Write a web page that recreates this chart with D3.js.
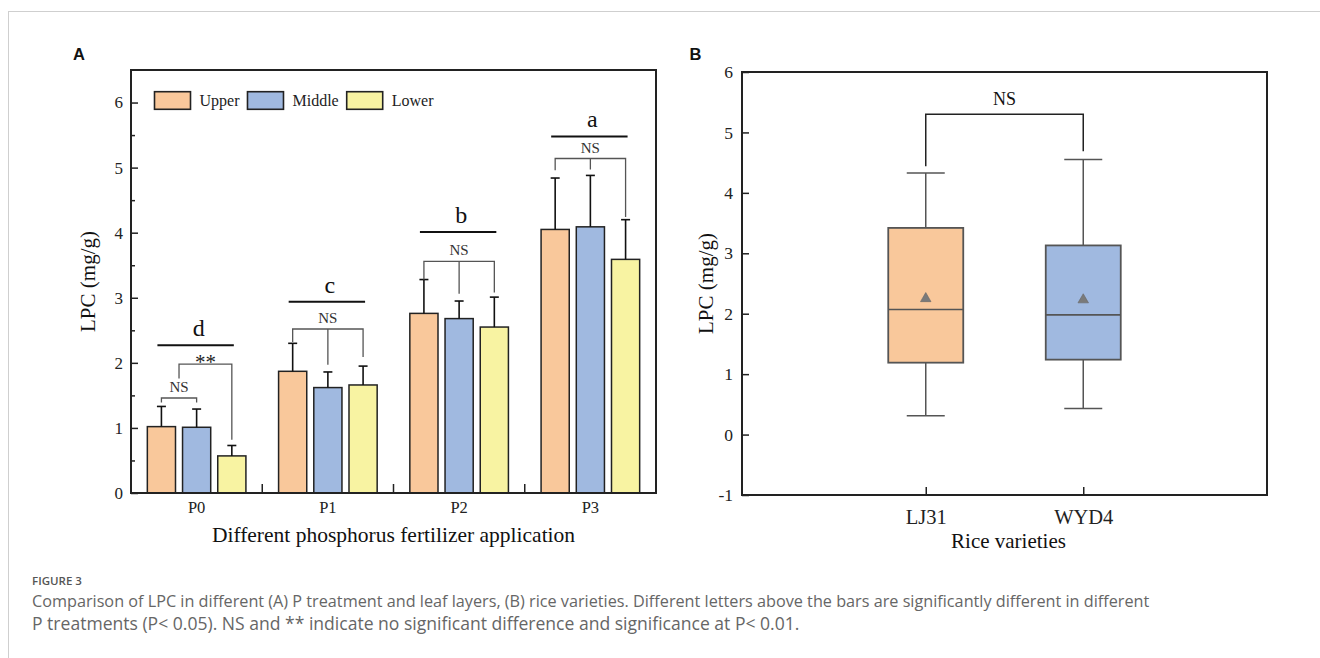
<!DOCTYPE html>
<html><head><meta charset="utf-8">
<script src="https://cdn.jsdelivr.net/npm/d3@7"></script>
<style>body{margin:0;background:#fff}svg{display:block}</style>
</head><body>
<svg id="c" width="1320" height="658"></svg>
<script>
// ---------- DATA ----------
const categories = ["P0","P1","P2","P3"];
const series = ["Upper","Middle","Lower"];
const upperMean = [1.02,1.87,2.76,4.05];
const upperSD   = [0.31,0.43,0.52,0.79];
const middleMean= [1.01,1.62,2.68,4.09];
const middleSD  = [0.28,0.24,0.27,0.79];
const lowerMean = [0.57,1.66,2.55,3.59];
const lowerSD   = [0.16,0.29,0.46,0.61];
const groupLetters = ["d","c","b","a"];
const letterLineY  = [2.27,2.94,4.01,5.48];
const nsBracketCats = ["P1","P2","P3"];
const nsBracketY    = [2.52,3.56,5.14];
const nsLegEndUpper = [2.32,3.28,4.96];
const nsLegEndMiddle= [1.97,3.06,4.97];
const nsLegEndLower = [2.09,3.08,4.24];
const p0NsY = 1.46, p0NsLegEnd = [1.39,1.39];
const p0StarY = 1.98, p0StarLegEnd = [1.76,0.82];
const yTicksA = [0,1,2,3,4,5,6];
const yMinorA = [0.5,1.5,2.5,3.5,4.5,5.5];

const varieties = ["LJ31","WYD4"];
const boxLow    = [0.31,0.43];
const boxQ1     = [1.19,1.24];
const boxMedian = [2.07,1.98];
const boxQ3     = [3.42,3.13];
const boxHigh   = [4.33,4.55];
const boxMean   = [2.25,2.23];
const yTicksB = [-1,0,1,2,3,4,5,6];
const nsBY = 5.30, nsBLegEnd = [4.44,4.69];

const captionLines = [
  "Comparison of LPC in different (A) P treatment and leaf layers, (B) rice varieties. Different letters above the bars are significantly different in different",
  "P treatments (P< 0.05). NS and ** indicate no significant difference and significance at P< 0.01."
];

const colors = {Upper:"#F9C89B", Middle:"#A0B9E0", Lower:"#F8F3A2"};
const means = {Upper:upperMean, Middle:middleMean, Lower:lowerMean};
const sds = {Upper:upperSD, Middle:middleSD, Lower:lowerSD};

const SERIF = "'Liberation Serif','Times New Roman',serif";
const svg = d3.select("#c");
svg.append("rect").attr("width",1320).attr("height",658).attr("fill","#fff");

svg.append("line").attr("x1",9).attr("x2",1320).attr("y1",11.5).attr("y2",11.5).attr("stroke","#cfcfcf");
svg.append("line").attr("x1",8.5).attr("x2",8.5).attr("y1",11).attr("y2",658).attr("stroke","#cfcfcf");

const intFmt = d => String(d);

// ---------- PANEL A ----------
const A = {l:131, t:70, r:656, b:493};
const yA = d3.scaleLinear().domain([0,6.5]).range([A.b,A.t]);
const x0 = d3.scaleBand().domain(categories).range([A.l,A.r]).padding(0);
const x1 = d3.scaleBand().domain(series).range([0,x0.bandwidth()]).paddingInner(0.2).paddingOuter(0.464);
const cx = (c,s) => x0(c)+x1(s)+x1.bandwidth()/2;

const gA = svg.append("g");
series.forEach(s=>{
  gA.append("g").selectAll("rect").data(categories).join("rect")
    .attr("x",c=>x0(c)+x1(s)).attr("width",x1.bandwidth())
    .attr("y",(c,i)=>yA(means[s][i])).attr("height",(c,i)=>yA(0)-yA(means[s][i]))
    .attr("fill",colors[s]).attr("stroke","#222").attr("stroke-width",1.5);
  const eg = gA.append("g").attr("stroke","#111").attr("stroke-width",1.6);
  eg.selectAll("line.v").data(categories).join("line").attr("class","v")
    .attr("x1",c=>cx(c,s)).attr("x2",c=>cx(c,s))
    .attr("y1",(c,i)=>yA(means[s][i])).attr("y2",(c,i)=>yA(means[s][i]+sds[s][i]));
  eg.selectAll("line.h").data(categories).join("line").attr("class","h")
    .attr("x1",c=>cx(c,s)-4.5).attr("x2",c=>cx(c,s)+4.5)
    .attr("y1",(c,i)=>yA(means[s][i]+sds[s][i])).attr("y2",(c,i)=>yA(means[s][i]+sds[s][i]));
});

gA.append("g").selectAll("line").data(categories).join("line")
  .attr("x1",c=>cx(c,"Upper")-4).attr("x2",c=>cx(c,"Lower")+2)
  .attr("y1",(c,i)=>yA(letterLineY[i])).attr("y2",(c,i)=>yA(letterLineY[i]))
  .attr("stroke","#111").attr("stroke-width",2);
gA.append("g").selectAll("text").data(categories).join("text")
  .attr("x",c=>x0(c)+x0.bandwidth()/2+2).attr("y",(c,i)=>yA(letterLineY[i])-9)
  .attr("text-anchor","middle").attr("font-family",SERIF).attr("font-size",24).attr("fill","#111")
  .text((c,i)=>groupLetters[i]);

const bg = gA.append("g").attr("fill","none").attr("stroke","#555").attr("stroke-width",1.3);
bg.selectAll("path").data(nsBracketCats).join("path")
  .attr("d",(c,i)=>`M${cx(c,"Upper")},${yA(nsLegEndUpper[i])}V${yA(nsBracketY[i])}H${cx(c,"Lower")}V${yA(nsLegEndLower[i])}M${cx(c,"Middle")},${yA(nsBracketY[i])}V${yA(nsLegEndMiddle[i])}`);
gA.append("g").selectAll("text").data(nsBracketCats).join("text")
  .attr("x",c=>cx(c,"Middle")).attr("y",(c,i)=>yA(nsBracketY[i])-6)
  .attr("text-anchor","middle").attr("font-family",SERIF).attr("font-size",15).attr("fill","#333")
  .text("NS");
const u0=cx("P0","Upper"), m0=cx("P0","Middle"), l0=cx("P0","Lower"), mid0=(u0+m0)/2;
bg.append("path").attr("d",`M${u0},${yA(p0NsLegEnd[0])}V${yA(p0NsY)}H${m0}V${yA(p0NsLegEnd[1])}`);
bg.append("path").attr("d",`M${mid0},${yA(p0StarLegEnd[0])}V${yA(p0StarY)}H${l0}V${yA(p0StarLegEnd[1])}`);
gA.append("text").attr("x",mid0).attr("y",yA(p0NsY)-6).attr("text-anchor","middle")
  .attr("font-family",SERIF).attr("font-size",15).attr("fill","#333").text("NS");
gA.append("text").attr("x",(mid0+l0)/2).attr("y",yA(p0StarY)+5).attr("text-anchor","middle")
  .attr("font-family",SERIF).attr("font-size",21).attr("fill","#222").text("**");

const yAxA = gA.append("g").attr("transform",`translate(${A.l},0)`)
  .call(d3.axisLeft(yA).tickValues(yTicksA).tickFormat(intFmt).tickSizeInner(-7).tickSizeOuter(0).tickPadding(8));
const yMinA = gA.append("g").attr("transform",`translate(${A.l},0)`)
  .call(d3.axisLeft(yA).tickValues(yMinorA).tickSizeInner(-4).tickSizeOuter(0).tickFormat(""));
const xAxA = gA.append("g").attr("transform",`translate(0,${A.b})`)
  .call(d3.axisBottom(x0).tickSize(0).tickPadding(8));
gA.append("g").selectAll("line").data(categories.slice(1)).join("line")
  .attr("x1",c=>x0(c)).attr("x2",c=>x0(c)).attr("y1",A.b).attr("y2",A.b-9)
  .attr("stroke","#222").attr("stroke-width",1.5);
[yAxA,yMinA,xAxA].forEach(g=>{
  g.select(".domain").remove();
  g.selectAll("line").attr("stroke","#222").attr("stroke-width",1.5);
  g.selectAll("text").attr("font-family",SERIF).attr("font-size",17).attr("fill","#222");
});
xAxA.selectAll("text").attr("font-size",16.5);
gA.append("rect").attr("x",A.l).attr("y",A.t).attr("width",A.r-A.l).attr("height",A.b-A.t)
  .attr("fill","none").attr("stroke","#222").attr("stroke-width",2);

let lx = A.l+23.5;
series.forEach(s=>{
  gA.append("rect").attr("x",lx).attr("y",A.t+21.7).attr("width",36).attr("height",17.6)
    .attr("fill",colors[s]).attr("stroke","#222").attr("stroke-width",1.6);
  const t = gA.append("text").attr("x",lx+45).attr("y",A.t+36).attr("font-family",SERIF)
    .attr("font-size",16).attr("fill","#222").text(s);
  lx += 45 + t.node().getComputedTextLength() + 8;
});

gA.append("text").attr("transform",`translate(88,${(A.t+A.b)/2}) rotate(-90)`)
  .attr("text-anchor","middle").attr("dominant-baseline","central")
  .attr("font-family",SERIF).attr("font-size",21).attr("fill","#111").text("LPC (mg/g)");
gA.append("text").attr("x",(A.l+A.r)/2).attr("y",541.5).attr("text-anchor","middle")
  .attr("font-family",SERIF).attr("font-size",21.5).attr("fill","#111")
  .text("Different phosphorus fertilizer application");
svg.append("text").attr("x",73).attr("y",60).attr("font-family","'Liberation Sans',Arial,sans-serif")
  .attr("font-weight","bold").attr("font-size",16.5).attr("fill","#111").text("A");

// ---------- PANEL B ----------
const B = {l:742, t:72, r:1267, b:495};
const yB = d3.scaleLinear().domain([-1,6]).range([B.b,B.t]);
const xB = d3.scalePoint().domain(varieties).range([B.l,B.r]).padding(1.1667);
const boxColors = [colors.Upper, colors.Middle];
const boxW = 75, capW = 38;
const gB = svg.append("g");
const wg = gB.append("g").attr("stroke","#555").attr("stroke-width",1.5);
wg.selectAll("line.w").data(varieties).join("line").attr("class","w")
  .attr("x1",v=>xB(v)).attr("x2",v=>xB(v)).attr("y1",(v,i)=>yB(boxLow[i])).attr("y2",(v,i)=>yB(boxHigh[i]));
wg.selectAll("line.cl").data(varieties).join("line").attr("class","cl")
  .attr("x1",v=>xB(v)-capW/2).attr("x2",v=>xB(v)+capW/2).attr("y1",(v,i)=>yB(boxLow[i])).attr("y2",(v,i)=>yB(boxLow[i]));
wg.selectAll("line.ch").data(varieties).join("line").attr("class","ch")
  .attr("x1",v=>xB(v)-capW/2).attr("x2",v=>xB(v)+capW/2).attr("y1",(v,i)=>yB(boxHigh[i])).attr("y2",(v,i)=>yB(boxHigh[i]));
gB.append("g").selectAll("rect").data(varieties).join("rect")
  .attr("x",v=>xB(v)-boxW/2).attr("width",boxW)
  .attr("y",(v,i)=>yB(boxQ3[i])).attr("height",(v,i)=>yB(boxQ1[i])-yB(boxQ3[i]))
  .attr("fill",(v,i)=>boxColors[i]).attr("stroke","#555").attr("stroke-width",1.8);
gB.append("g").selectAll("line").data(varieties).join("line")
  .attr("x1",v=>xB(v)-boxW/2).attr("x2",v=>xB(v)+boxW/2)
  .attr("y1",(v,i)=>yB(boxMedian[i])).attr("y2",(v,i)=>yB(boxMedian[i]))
  .attr("stroke","#555").attr("stroke-width",1.6);
gB.append("g").selectAll("path").data(varieties).join("path")
  .attr("transform",(v,i)=>`translate(${xB(v)},${yB(boxMean[i])})`)
  .attr("d",d3.symbol(d3.symbolTriangle,48))
  .attr("fill","#7a7a7a").attr("stroke","#666").attr("stroke-width",0.6);
gB.append("path").attr("fill","none").attr("stroke","#222").attr("stroke-width",1.5)
  .attr("d",`M${xB("LJ31")},${yB(nsBLegEnd[0])}V${yB(nsBY)}H${xB("WYD4")}V${yB(nsBLegEnd[1])}`);
gB.append("text").attr("x",(xB("LJ31")+xB("WYD4"))/2).attr("y",yB(nsBY)-9).attr("text-anchor","middle")
  .attr("font-family",SERIF).attr("font-size",18).attr("fill","#111").text("NS");

const yAxB = gB.append("g").attr("transform",`translate(${B.l},0)`)
  .call(d3.axisLeft(yB).tickValues(yTicksB).tickFormat(intFmt).tickSizeInner(-7).tickSizeOuter(0).tickPadding(9));
const xAxB = gB.append("g").attr("transform",`translate(0,${B.b})`)
  .call(d3.axisBottom(xB).tickSizeInner(-8).tickSizeOuter(0).tickPadding(14));
[yAxB,xAxB].forEach(g=>{
  g.select(".domain").remove();
  g.selectAll("line").attr("stroke","#222").attr("stroke-width",1.5);
  g.selectAll("text").attr("font-family",SERIF).attr("font-size",17.5).attr("fill","#222");
});
xAxB.selectAll("text").attr("font-size",20.5);
gB.append("rect").attr("x",B.l).attr("y",B.t).attr("width",B.r-B.l).attr("height",B.b-B.t)
  .attr("fill","none").attr("stroke","#222").attr("stroke-width",2);
gB.append("text").attr("transform",`translate(706,${(B.t+B.b)/2}) rotate(-90)`)
  .attr("text-anchor","middle").attr("dominant-baseline","central")
  .attr("font-family",SERIF).attr("font-size",21).attr("fill","#111").text("LPC (mg/g)");
gB.append("text").attr("x",(B.l+B.r)/2+4).attr("y",548).attr("text-anchor","middle")
  .attr("font-family",SERIF).attr("font-size",21).attr("fill","#111").text("Rice varieties");
svg.append("text").attr("x",689.5).attr("y",60).attr("font-family","'Liberation Sans',Arial,sans-serif")
  .attr("font-weight","bold").attr("font-size",16.5).attr("fill","#111").text("B");

// ---------- CAPTION ----------
const CAP = "'Open Sans','Noto Sans',sans-serif";
const fig = svg.append("text").attr("x",32).attr("y",585).attr("font-family",CAP)
  .attr("font-weight",600).attr("font-size",12).attr("fill","#555").text("FIGURE 3");
fig.attr("font-size", 12*50/fig.node().getComputedTextLength());

const lineY = [607, 630], lineW = [1118, 768];
captionLines.forEach((t,i)=>{
  const el = svg.append("text").attr("x",32).attr("y",lineY[i]).attr("font-family",CAP)
    .attr("font-size",16).attr("fill","#666").text(t);
  el.attr("font-size", 16*lineW[i]/el.node().getComputedTextLength());
});
</script>
</body></html>
